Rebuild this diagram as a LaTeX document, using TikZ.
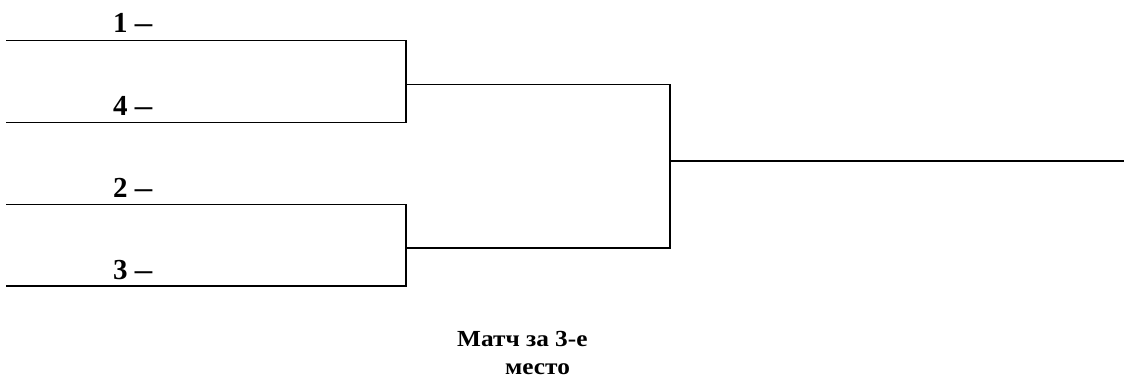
\documentclass[tikz,border=0pt]{standalone}
\usepackage{fontspec}
\setmainfont{Liberation Serif}
\newcommand{\wdash}{\scalebox{1.2}[1]{–}}
\newcommand{\wtext}[1]{\scalebox{1.1}[1]{#1}}
\begin{document}
\begin{tikzpicture}[x=1pt,y=-1pt,
  bline/.style={line width=1.8pt, line cap=rect, line join=miter},
  seed/.style={font=\fontsize{29}{31}\selectfont\bfseries, anchor=base west, inner sep=0pt},
  note/.style={font=\fontsize{23}{28}\selectfont\bfseries, anchor=base west, inner sep=0pt}]
\useasboundingbox (0,0) rectangle (1130,379);
% first-round lines
\coordinate (a1) at (7,40.5);    \coordinate (a1e) at (406,40.5);
\coordinate (a4) at (7,122.5);   \coordinate (a4e) at (406,122.5);
\coordinate (a2) at (7,204.5);   \coordinate (a2e) at (406,204.5);
\coordinate (a3) at (7,286);     \coordinate (a3e) at (406,286);
% semifinal
\coordinate (s1) at (406,84.5); \coordinate (f1) at (670,84.5);
\coordinate (s2) at (406,248);  \coordinate (f2) at (670,248);
% final
\coordinate (fm) at (670,160.7); \coordinate (win) at (1123,160.7);
\draw[bline] (a1) -- (a1e) -- (a4e) -- (a4);
\draw[bline] (a2) -- (a2e) -- (a3e) -- (a3);
\draw[bline] (s1) -- (f1) -- (f2) -- (s2);
\draw[bline] (fm) -- (win);
% labels
\node[seed] (t1) at (113,32.5) {1 \wdash};
\node[seed] (t4) at (113,115.5) {4 \wdash};
\node[seed] (t2) at (113,197.5) {2 \wdash};
\node[seed] (t3) at (113,279.5) {3 \wdash};
\node[note] (m1) at (457,346.5) {\wtext{Матч за 3-е}};
\node[note] (m2) at (505,374.5) {\wtext{место}};
\end{tikzpicture}
\end{document}
